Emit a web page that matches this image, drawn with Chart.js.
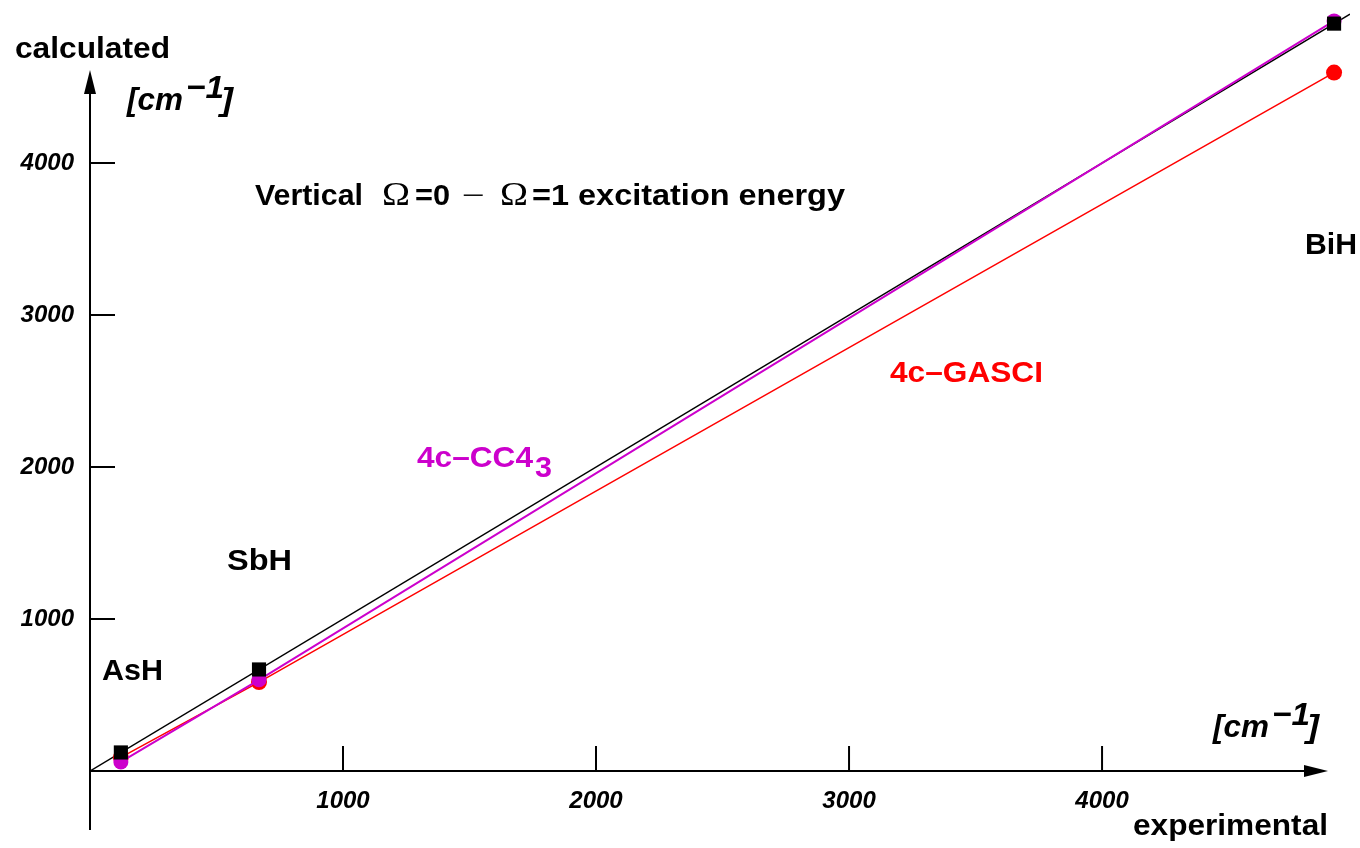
<!DOCTYPE html>
<html>
<head>
<meta charset="utf-8">
<script src="https://cdn.jsdelivr.net/npm/chart.js@4.4.1/dist/chart.umd.min.js"></script>
<style>
  html, body { margin: 0; padding: 0; background: #fff; }
  #wrap { width: 1360px; height: 848px; }
</style>
</head>
<body>
<div id="wrap"><canvas id="myChart" width="1360" height="848"></canvas></div>
<script>
// molecules and energies in cm-1
const molecules = ['AsH', 'SbH', 'BiH'];
const experimental = [122, 668, 4917];
const gasci = [90, 585, 4595];
const cc4 = [60, 600, 4935];
// ideal line calculated = experimental
const idealX = [0, 4980];
const idealY = [0, 4980];

const xTicks = [1000, 2000, 3000, 4000];
const yTicks = [1000, 2000, 3000, 4000];

const FONT = "'Liberation Sans', Arial, Helvetica, sans-serif";
const SERIF = "'Liberation Serif', 'Times New Roman', serif";
const MAGENTA = '#cc00cc';
const RED = '#ff0000';

function toPoints(xs, ys) {
    return xs.map((x, i) => ({ x: x, y: ys[i] }));
}

// draw text squeezed/stretched to a given width
function fitText(ctx, text, x0, x1, base, font, color) {
    ctx.save();
    ctx.font = font;
    ctx.fillStyle = color;
    ctx.textAlign = 'left';
    ctx.textBaseline = 'alphabetic';
    const w = ctx.measureText(text).width;
    ctx.translate(x0, base);
    ctx.scale((x1 - x0) / w, 1);
    ctx.fillText(text, 0, 0);
    ctx.restore();
}

function unitLabel(ctx, x, base) {
    const f = 'italic bold 32px ' + FONT;
    fitText(ctx, '[cm', x, x + 56, base, f, '#000');
    fitText(ctx, '\u22121', x + 59, x + 97, base - 12, f, '#000');
    fitText(ctx, ']', x + 94, x + 106, base, f, '#000');
}

const axesPlugin = {
    id: 'axes',
    afterDraw(chart) {
        const ctx = chart.ctx;
        const xs = chart.scales.x;
        const ys = chart.scales.y;
        const x0 = xs.getPixelForValue(0);
        const y0 = ys.getPixelForValue(0);

        ctx.save();
        ctx.strokeStyle = '#000';
        ctx.fillStyle = '#000';
        ctx.lineWidth = 2;

        // y axis with arrow
        ctx.beginPath();
        ctx.moveTo(x0, 830);
        ctx.lineTo(x0, 88);
        ctx.stroke();
        ctx.beginPath();
        ctx.moveTo(x0, 70);
        ctx.lineTo(x0 - 6, 94);
        ctx.lineTo(x0 + 6, 94);
        ctx.closePath();
        ctx.fill();

        // x axis with arrow
        ctx.beginPath();
        ctx.moveTo(x0, y0);
        ctx.lineTo(1310, y0);
        ctx.stroke();
        ctx.beginPath();
        ctx.moveTo(1328, y0);
        ctx.lineTo(1304, y0 - 6);
        ctx.lineTo(1304, y0 + 6);
        ctx.closePath();
        ctx.fill();

        // tick marks pointing inside
        yTicks.forEach(v => {
            const p = ys.getPixelForValue(v);
            ctx.beginPath();
            ctx.moveTo(x0, p);
            ctx.lineTo(x0 + 25, p);
            ctx.stroke();
        });
        xTicks.forEach(v => {
            const p = xs.getPixelForValue(v);
            ctx.beginPath();
            ctx.moveTo(p, y0);
            ctx.lineTo(p, y0 - 25);
            ctx.stroke();
        });
        ctx.restore();

        const bold = 'bold 30px ' + FONT;
        fitText(ctx, 'calculated', 15, 170, 58, bold, '#000');
        fitText(ctx, 'experimental', 1133, 1328, 835, bold, '#000');
        unitLabel(ctx, 127, 110);
        unitLabel(ctx, 1213, 737);

        // title
        const sym = '34px ' + SERIF;
        fitText(ctx, 'Vertical', 255, 363, 205, bold, '#000');
        fitText(ctx, '\u03A9', 382, 410, 205, sym, '#000');
        fitText(ctx, '=0', 415, 450, 205, bold, '#000');
        fitText(ctx, '\u2212', 462, 485, 205, '30px ' + SERIF, '#000');
        fitText(ctx, '\u03A9', 500, 528, 205, sym, '#000');
        fitText(ctx, '=1 excitation energy', 532, 845, 205, bold, '#000');

        // molecule names
        fitText(ctx, molecules[0], 102, 163, 680, bold, '#000');
        fitText(ctx, molecules[1], 227, 292, 570, bold, '#000');
        fitText(ctx, molecules[2], 1305, 1357, 254, bold, '#000');

        // method names
        fitText(ctx, '4c\u2013GASCI', 890, 1043, 382, bold, RED);
        fitText(ctx, '4c\u2013CC4', 417, 533, 467, bold, MAGENTA);
        fitText(ctx, '3', 535, 552, 477, bold, MAGENTA);
    }
};

const tickFont = { family: FONT, size: 24, weight: 'bold', style: 'italic' };

const config = {
    type: 'scatter',
    data: {
        datasets: [{
            label: 'experimental',
            data: toPoints(experimental, experimental),
            showLine: false,
            pointStyle: 'rect',
            pointRadius: 10,
            backgroundColor: '#000',
            borderColor: '#000',
            borderWidth: 0
        }, {
            label: '4c-CC4_3',
            data: toPoints(experimental, cc4),
            showLine: true,
            borderColor: MAGENTA,
            backgroundColor: MAGENTA,
            borderWidth: 2,
            pointRadius: 7.5,
            pointBorderWidth: 0
        }, {
            label: '4c-GASCI',
            data: toPoints(experimental, gasci),
            showLine: true,
            borderColor: RED,
            backgroundColor: RED,
            borderWidth: 1.5,
            pointRadius: 8,
            pointBorderWidth: 0
        }, {
            label: 'ideal',
            data: toPoints(idealX, idealY),
            showLine: true,
            borderColor: '#000',
            borderWidth: 1.5,
            pointRadius: 0
        }]
    },
    options: {
        responsive: false,
        animation: false,
        layout: { padding: { left: 0, right: 0, top: 11, bottom: 0 } },
        plugins: {
            legend: { display: false },
            tooltip: { enabled: false }
        },
        scales: {
            x: {
                type: 'linear',
                min: 0,
                max: 4980,
                grid: { display: false, drawTicks: false },
                border: { display: false },
                afterBuildTicks: s => { s.ticks = xTicks.map(v => ({ value: v })); },
                afterFit: s => {
                    s.height = 77;
                    s.paddingLeft = 0;
                    s.paddingRight = 0;
                },
                ticks: {
                    font: tickFont, color: '#000', padding: 16, maxRotation: 0,
                    callback: v => String(v)
                }
            },
            y: {
                type: 'linear',
                min: 0,
                max: 5000,
                grid: { display: false, drawTicks: false },
                border: { display: false },
                afterBuildTicks: s => { s.ticks = yTicks.map(v => ({ value: v })); },
                afterFit: s => {
                    s.width = 90;
                    s.paddingTop = 0;
                    s.paddingBottom = 0;
                },
                ticks: {
                    font: tickFont, color: '#000', padding: 16,
                    callback: v => String(v)
                }
            }
        }
    },
    plugins: [axesPlugin]
};

const myChart = new Chart(document.getElementById('myChart'), config);
</script>
</body>
</html>
